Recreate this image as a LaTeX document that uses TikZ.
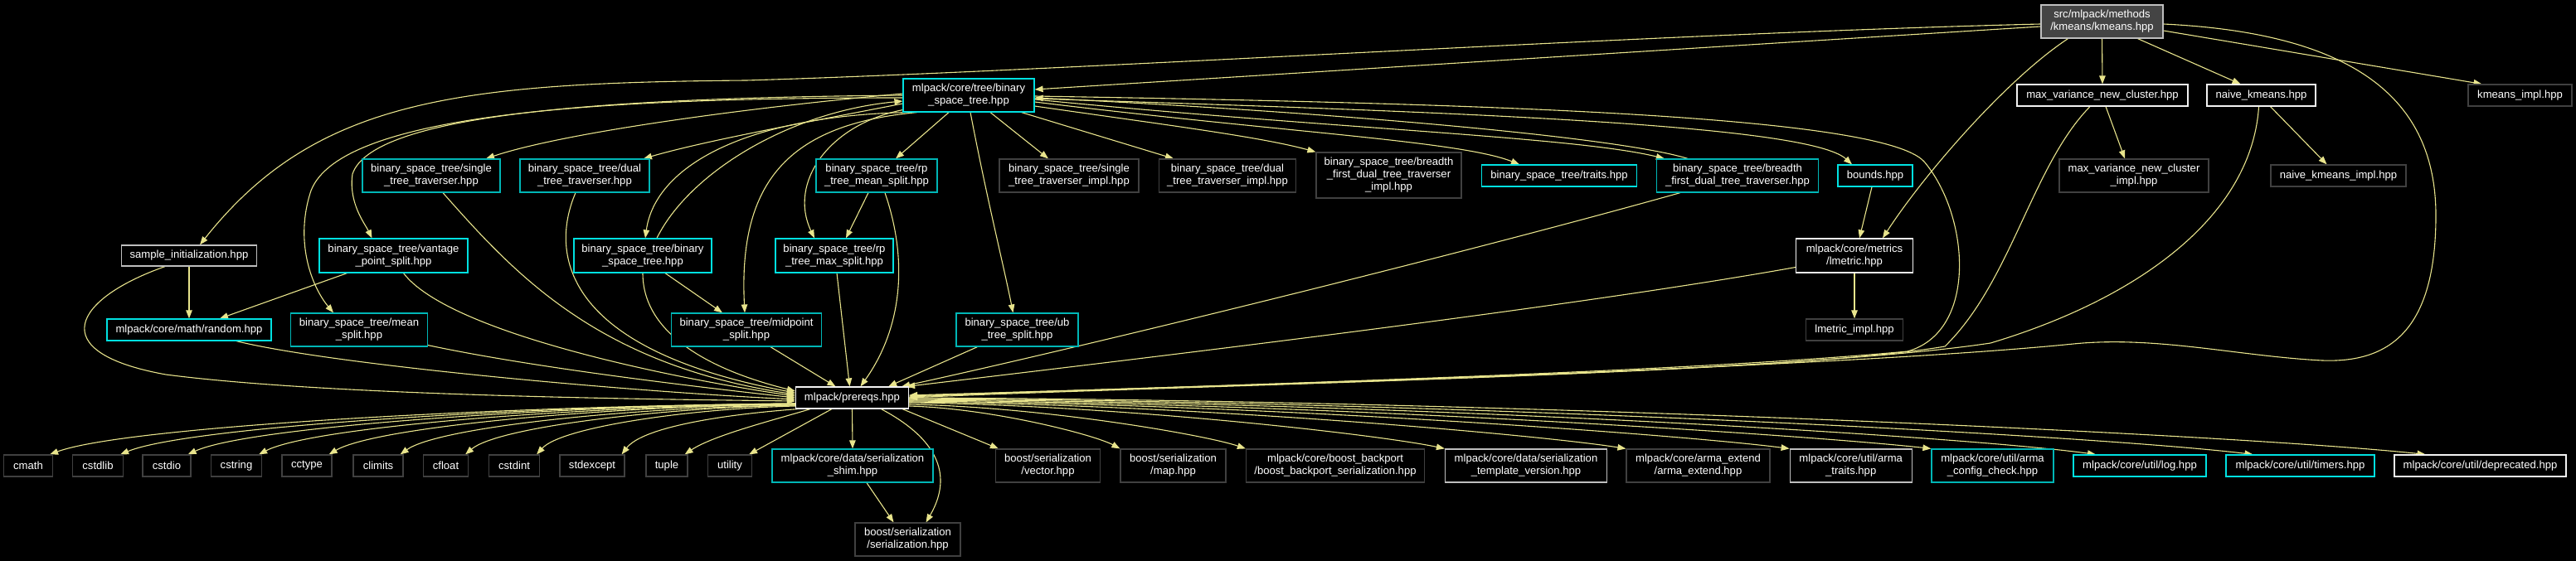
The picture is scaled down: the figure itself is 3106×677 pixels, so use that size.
\documentclass[tikz,border=0pt]{standalone}
\usepackage{fontspec}
\setmainfont{Liberation Sans}
\usetikzlibrary{calc,arrows.meta}
\definecolor{edgecol}{RGB}{232,228,140}
\definecolor{cyB}{RGB}{0,225,225}
\definecolor{cyT}{RGB}{0,182,182}
\definecolor{dkb}{RGB}{64,64,64}
\definecolor{ltb}{RGB}{190,190,190}
\definecolor{whb}{RGB}{242,242,242}
\definecolor{rootfill}{RGB}{68,68,68}
\pgfdeclarelayer{back}
\pgfdeclarelayer{bg}
\pgfsetlayers{back,bg,main}
\tikzset{
  nb/.style={rectangle, line width=1.2bp, fill=black, text=white, inner sep=0pt, align=center,
    font=\fontsize{13.1bp}{15bp}\selectfont},
  cB/.style={nb, draw=cyB},
  cT/.style={nb, draw=cyT},
  dk/.style={nb, draw=dkb},
  lt/.style={nb, draw=ltb},
  wh/.style={nb, draw=whb},
  sz/.style 2 args={minimum width=#1bp, minimum height=#2bp},
  dep/.style={draw=edgecol, line width=1.1bp, -{Triangle[length=10bp,width=7.5bp]}, fill=none}
}
\begin{document}
\begin{tikzpicture}[x=1bp,y=-1bp]
\begin{pgfonlayer}{back}
\fill[black] (0,0) rectangle (3106,677);
\end{pgfonlayer}
\useasboundingbox (0,0) rectangle (3106,677);

% rank 0
\node[lt, fill=rootfill, sz={147}{40}] (root) at (2534.5,26) {src/mlpack/methods\\/kmeans/kmeans.hpp};
% rank 1
\node[cB, sz={158}{40}] (BST) at (1168,115) {mlpack/core/tree/binary\\\_space\_tree.hpp};
\node[wh, sz={206}{26}] (maxvar) at (2535,115) {max\_variance\_new\_cluster.hpp};
\node[wh, sz={131}{26}] (naive) at (2726.5,115) {naive\_kmeans.hpp};
\node[dk, sz={125}{26}] (kimpl) at (3038.5,115) {kmeans\_impl.hpp};
% rank 2
\node[cT, sz={166}{40}] (single) at (520,212) {binary\_space\_tree/single\\\_tree\_traverser.hpp};
\node[cT, sz={156}{40}] (dual) at (705,212) {binary\_space\_tree/dual\\\_tree\_traverser.hpp};
\node[cT, sz={146}{40}] (rpmean) at (1057,212) {binary\_space\_tree/rp\\\_tree\_mean\_split.hpp};
\node[dk, sz={168}{40}] (singleimpl) at (1289,212) {binary\_space\_tree/single\\\_tree\_traverser\_impl.hpp};
\node[dk, sz={165}{40}] (dualimpl) at (1480,212) {binary\_space\_tree/dual\\\_tree\_traverser\_impl.hpp};
\node[dk, sz={175}{55}] (bfdtimpl) at (1674.5,211.5) {binary\_space\_tree/breadth\\\_first\_dual\_tree\_traverser\\\_impl.hpp};
\node[cB, sz={187}{26}] (traits) at (1880,212) {binary\_space\_tree/traits.hpp};
\node[cT, sz={195}{40}] (bfdt) at (2095,212) {binary\_space\_tree/breadth\\\_first\_dual\_tree\_traverser.hpp};
\node[cB, sz={90}{26}] (bounds) at (2261,212) {bounds.hpp};
\node[dk, sz={180}{40}] (maxvarimpl) at (2573,212) {max\_variance\_new\_cluster\\\_impl.hpp};
\node[dk, sz={163}{26}] (naiveimpl) at (2819.5,212) {naive\_kmeans\_impl.hpp};
% rank 3
\node[lt, sz={163}{25}] (sample) at (228,308.5) {sample\_initialization.hpp};
\node[cB, sz={179}{41}] (vantage) at (474.5,308.5) {binary\_space\_tree/vantage\\\_point\_split.hpp};
\node[cB, sz={166}{41}] (bstbin) at (775,308.5) {binary\_space\_tree/binary\\\_space\_tree.hpp};
\node[cB, sz={142}{41}] (rpmax) at (1006,308.5) {binary\_space\_tree/rp\\\_tree\_max\_split.hpp};
\node[wh, sz={141}{41}] (lmetric) at (2236,308.5) {mlpack/core/metrics\\/lmetric.hpp};
% rank 4
\node[cB, sz={198}{26}] (random) at (228,398) {mlpack/core/math/random.hpp};
\node[cT, sz={165}{40}] (meansplit) at (433,398) {binary\_space\_tree/mean\\\_split.hpp};
\node[cT, sz={181}{40}] (midpoint) at (900,398) {binary\_space\_tree/midpoint\\\_split.hpp};
\node[cT, sz={147}{40}] (ub) at (1226.5,398) {binary\_space\_tree/ub\\\_tree\_split.hpp};
\node[dk, sz={117}{26}] (lmetricimpl) at (2236,398) {lmetric\_impl.hpp};
% rank 5
\node[wh, sz={136}{26}] (prereqs) at (1027.5,480) {mlpack/prereqs.hpp};
% rank 6
\node[dk, sz={59}{26}] (cmath) at (34,562) {cmath};
\node[dk, sz={61}{26}] (cstdlib) at (118,562) {cstdlib};
\node[dk, sz={58}{26}] (cstdio) at (201,562) {cstdio};
\node[dk, sz={61}{26}] (cstring) at (285,562) {cstring};
\node[dk, sz={60}{26}] (cctype) at (370,562) {cctype};
\node[dk, sz={60}{26}] (climits) at (456,562) {climits};
\node[dk, sz={54}{26}] (cfloat) at (537.5,562) {cfloat};
\node[dk, sz={61}{26}] (cstdint) at (620,562) {cstdint};
\node[dk, sz={78}{26}] (stdexcept) at (714,562) {stdexcept};
\node[dk, sz={50}{26}] (tuple) at (804,562) {tuple};
\node[dk, sz={53}{26}] (utility) at (880,562) {utility};
\node[cT, sz={194}{40}] (shim) at (1028,562) {mlpack/core/data/serialization\\\_shim.hpp};
\node[dk, sz={126}{40}] (vector) at (1263.5,562) {boost/serialization\\/vector.hpp};
\node[dk, sz={127}{40}] (map) at (1414.5,562) {boost/serialization\\/map.hpp};
\node[dk, sz={215}{40}] (backport) at (1610,562) {mlpack/core/boost\_backport\\/boost\_backport\_serialization.hpp};
\node[lt, sz={195}{40}] (template) at (1840,562) {mlpack/core/data/serialization\\\_template\_version.hpp};
\node[dk, sz={173}{40}] (armaext) at (2047.5,562) {mlpack/core/arma\_extend\\/arma\_extend.hpp};
\node[lt, sz={147}{40}] (armatraits) at (2231.7,562) {mlpack/core/util/arma\\\_traits.hpp};
\node[cT, sz={147}{40}] (armacfg) at (2402.5,562) {mlpack/core/util/arma\\\_config\_check.hpp};
\node[cB, sz={160}{26}] (log) at (2580,562) {mlpack/core/util/log.hpp};
\node[cB, sz={179}{26}] (timers) at (2773.5,562) {mlpack/core/util/timers.hpp};
\node[wh, sz={207}{26}] (deprecated) at (2990.5,562) {mlpack/core/util/deprecated.hpp};
% rank 7
\node[dk, sz={127}{40}] (ser) at (1094.5,651) {boost/serialization\\/serialization.hpp};

\begin{pgfonlayer}{bg}
% root
\draw[dep] ($(root.west)+(0,3)$) .. controls (2000,40) and (1300,85) .. (900,97) .. controls (550,100) and (380,120) .. ($(sample.north)+(13,0)$);
\draw[dep] ($(root.west)+(0,6)$) -- ($(BST.east)+(0,-7)$);
\draw[dep] (root.south) -- (maxvar.north);
\draw[dep] ($(root.south)+(43,0)$) -- ($(naive.north)+(-25,0)$);
\draw[dep] ($(root.east)+(0,11)$) -- ($(kimpl.north)+(-46,0)$);
\draw[dep] ($(root.south)+(-41,0)$) .. controls (2420,95) and (2320,210) .. ($(lmetric.north)+(34,0)$);
\draw[dep] ($(root.east)+(0,3)$) .. controls (2840,40) and (2937,120) .. (2937,260) .. controls (2937,400) and (2880,438) .. (2800,435) .. controls (2700,430) and (2600,405) .. (2500,415) .. controls (2200,445) and (1400,468) .. ($(prereqs.east)+(0,-3)$);
% BST
\draw[dep] ($(BST.west)+(0,-2)$) .. controls (900,130) and (680,160) .. ($(single.north)+(66,0)$);
\draw[dep] ($(BST.west)+(0,10)$) .. controls (960,150) and (850,170) .. ($(dual.north)+(71,0)$);
\draw[dep] (BST.west) .. controls (750,118) and (450,135) .. (425,210) .. controls (420,245) and (440,270) .. ($(vantage.north)+(-26,0)$);
\draw[dep] ($(BST.west)+(0,3)$) .. controls (700,118) and (410,140) .. (375,230) .. controls (355,290) and (375,345) .. ($(meansplit.north)+(-31,0)$);
\draw[dep] ($(BST.south west)+(5,0)$) .. controls (900,140) and (790,200) .. ($(bstbin.north)+(3,0)$);
\draw[dep] ($(bstbin.north)+(17,0)$) .. controls (830,210) and (950,135) .. ($(BST.west)+(0,7)$);
\draw[dep] ($(BST.south)+(-24,0)$) -- ($(rpmean.north)+(23,0)$);
\draw[dep] ($(BST.south west)+(0,-3)$) .. controls (1000,150) and (950,220) .. ($(rpmax.north)+(-24,0)$);
\draw[dep] ($(rpmean.south)+(-10,0)$) -- ($(rpmax.north)+(14,0)$);
\draw[dep] ($(BST.south)+(-62,0)$) .. controls (950,150) and (890,220) .. ($(midpoint.north)+(-2,0)$);
\draw[dep] ($(bstbin.south)+(27,0)$) -- ($(midpoint.north)+(-29,0)$);
\draw[dep] ($(BST.south)+(2,0)$) .. controls (1190,240) and (1210,320) .. ($(ub.north)+(-5,0)$);
\draw[dep] ($(BST.south)+(26,0)$) -- ($(singleimpl.north)+(-25,0)$);
\draw[dep] ($(BST.south east)+(-16,0)$) -- ($(dualimpl.north)+(-65,0)$);
\draw[dep] ($(BST.east)+(0,13)$) .. controls (1400,150) and (1520,165) .. (bfdtimpl.north west);
\draw[dep] ($(BST.east)+(0,8)$) .. controls (1550,160) and (1760,170) .. ($(traits.north)+(-48,0)$);
\draw[dep] ($(BST.east)+(0,5)$) .. controls (1600,155) and (1900,165) .. ($(bfdt.north west)+(10,0)$);
\draw[dep] ($(bfdt.north)+(-60,0)$) .. controls (1950,165) and (1600,135) .. ($(BST.east)+(0,3)$);
\draw[dep] ($(BST.east)+(0,4)$) .. controls (1750,135) and (2180,150) .. ($(bounds.north)+(-28,0)$);
\draw[dep] ($(BST.east)+(0,1)$) .. controls (1800,125) and (2270,140) .. (2320,195) .. controls (2375,260) and (2385,400) .. (2300,424) .. controls (2000,452) and (1400,466) .. ($(prereqs.east)+(0,-1)$);
% other into prereqs
\draw[dep] ($(lmetric.west)+(0,14)$) .. controls (1900,370) and (1400,430) .. ($(prereqs.north east)+(-3,0)$);
\draw[dep] ($(bfdt.south)+(-69,0)$) .. controls (1750,310) and (1300,420) .. ($(prereqs.north east)+(-9,0)$);
\draw[dep] ($(ub.south)+(-48,0)$) -- ($(prereqs.north east)+(-25,0)$);
\draw[dep] ($(rpmax.south)+(3,0)$) -- ($(prereqs.north)+(-3,0)$);
\draw[dep] ($(rpmean.south)+(10,0)$) .. controls (1097,320) and (1085,400) .. ($(prereqs.north)+(10,0)$);
\draw[dep] ($(midpoint.south)+(29,0)$) -- ($(prereqs.north)+(-20,0)$);
\draw[dep] (bstbin.south) .. controls (775,400) and (850,445) .. ($(prereqs.west)+(0,-8)$);
\draw[dep] ($(dual.south)+(-11,0)$) .. controls (665,300) and (670,420) .. ($(prereqs.west)+(0,-6)$);
\draw[dep] ($(single.south)+(14,0)$) .. controls (620,330) and (720,440) .. ($(prereqs.west)+(0,-4)$);
\draw[dep] ($(vantage.south)+(12,0)$) .. controls (540,400) and (800,455) .. ($(prereqs.west)+(0,-2)$);
\draw[dep] ($(meansplit.south east)+(0,-2)$) .. controls (650,445) and (850,468) .. (prereqs.west);
\draw[dep] ($(random.south)+(57,0)$) .. controls (400,440) and (750,472) .. ($(prereqs.west)+(0,2)$);
\draw[dep] ($(sample.south)+(-29,0)$) .. controls (90,360) and (50,425) .. (200,452) .. controls (400,478) and (800,482) .. ($(prereqs.west)+(0,4)$);
\draw[dep] (sample.south) -- (random.north);
\draw[dep] ($(vantage.south)+(-56,0)$) -- ($(random.north)+(37,0)$);
\draw[dep] ($(bounds.south)+(-4,0)$) -- ($(lmetric.north)+(6,0)$);
\draw[dep] (lmetric.south) -- (lmetricimpl.north);
\draw[dep] ($(maxvar.south)+(4,0)$) -- ($(maxvarimpl.north)+(-11,0)$);
\draw[dep] ($(maxvar.south)+(-15,0)$) .. controls (2450,200) and (2425,340) .. (2345,418) .. controls (2150,452) and (1400,466) .. ($(prereqs.east)+(0,-2)$);
\draw[dep] ($(naive.south)+(11,0)$) -- ($(naiveimpl.north)+(-14,0)$);
\draw[dep] ($(naive.south)+(-3,0)$) .. controls (2715,260) and (2580,360) .. (2400,414) .. controls (2150,452) and (1400,466) .. (prereqs.east);
% prereqs out, left
\draw[dep] ($(prereqs.west)+(0,7)$) .. controls (600,490) and (150,515) .. ($(cmath.north east)+(-4,0)$);
\draw[dep] ($(prereqs.west)+(0,7)$) .. controls (633,490) and (226,515) .. ($(cstdlib.north east)+(-4,0)$);
\draw[dep] ($(prereqs.west)+(0,7)$) .. controls (666,490) and (299,515) .. ($(cstdio.north east)+(-4,0)$);
\draw[dep] ($(prereqs.west)+(0,8)$) .. controls (700,490) and (376,515) .. ($(cstring.north east)+(-4,0)$);
\draw[dep] ($(prereqs.west)+(0,8)$) .. controls (734,490) and (453,515) .. ($(cctype.north east)+(-4,0)$);
\draw[dep] ($(prereqs.west)+(0,9)$) .. controls (768,491) and (529,515) .. ($(climits.north east)+(-4,0)$);
\draw[dep] ($(prereqs.west)+(0,9)$) .. controls (800,492) and (600,515) .. ($(cfloat.north east)+(-4,0)$);
\draw[dep] ($(prereqs.west)+(0,10)$) .. controls (834,493) and (677,515) .. ($(cstdint.north east)+(-4,0)$);
\draw[dep] ($(prereqs.south west)+(3,0)$) .. controls (875,500) and (775,515) .. ($(stdexcept.north east)+(-4,0)$);
\draw[dep] ($(prereqs.south west)+(18,0)$) .. controls (940,505) and (860,525) .. ($(tuple.north east)+(-4,0)$);
\draw[dep] ($(prereqs.south west)+(44,0)$) -- ($(utility.north east)+(-4,0)$);
% prereqs out, right
\draw[dep] (prereqs.south) -- (shim.north);
\draw[dep] ($(prereqs.south)+(35,0)$) .. controls (1150,540) and (1140,590) .. ($(ser.north)+(22,0)$);
\draw[dep] ($(shim.south)+(17,0)$) -- ($(ser.north)+(-17,0)$);
\draw[dep] ($(prereqs.south east)+(-8,0)$) -- ($(vector.north west)+(4,0)$);
\draw[dep] ($(prereqs.east)+(0,10)$) .. controls (1198,493) and (1320,525) .. (map.north west);
\draw[dep] ($(prereqs.east)+(0,8)$) .. controls (1258,491) and (1454,525) .. (backport.north west);
\draw[dep] ($(prereqs.east)+(0,6)$) .. controls (1354,489) and (1665,525) .. (template.north west);
\draw[dep] ($(prereqs.east)+(0,5)$) .. controls (1442,488) and (1857,525) .. (armaext.north west);
\draw[dep] ($(prereqs.east)+(0,4)$) .. controls (1521,487) and (2031,525) .. (armatraits.north west);
\draw[dep] ($(prereqs.east)+(0,3)$) .. controls (1589,486) and (2181,525) .. (armacfg.north west);
\draw[dep] ($(prereqs.east)+(0,2)$) .. controls (1668,485) and (2355,525) .. ($(log.north)+(-53,0)$);
\draw[dep] ($(prereqs.east)+(0,1)$) .. controls (1744,484) and (2522,525) .. ($(timers.north)+(-57,0)$);
\draw[dep] (prereqs.east) .. controls (1827,483) and (2705,525) .. ($(deprecated.north)+(-66,0)$);
\end{pgfonlayer}
\end{tikzpicture}
\end{document}
